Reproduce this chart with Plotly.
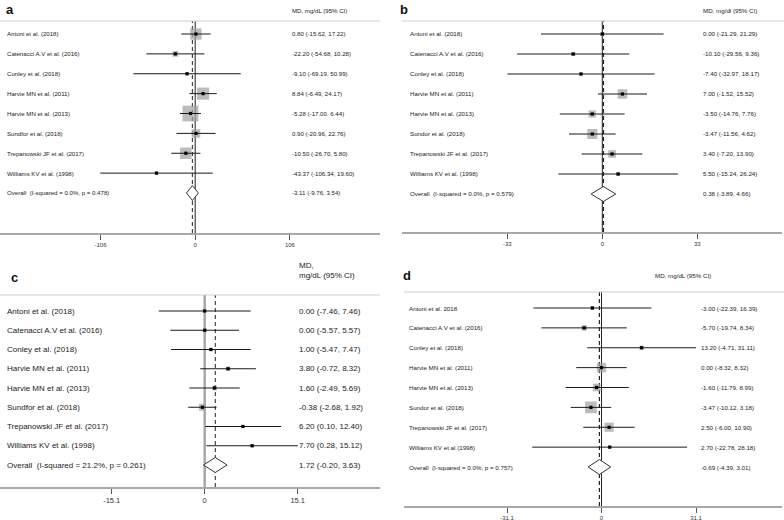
import math
import plotly.graph_objects as go

W, H = 784, 520

# ---------------- DATA ----------------
studies_a = ["Antoni et al. (2018)", "Catenacci A.V et al. (2016)", "Conley et al. (2018)",
             "Harvie MN et al. (2011)", "Harvie MN et al. (2013)", "Sundfor et al. (2018)",
             "Trepanowski JF et al. (2017)", "Williams KV et al. (1998)"]
md_a = [0.80, -22.20, -9.10, 8.84, -5.28, 0.90, -10.50, -43.37]
lo_a = [-15.62, -54.68, -69.19, -6.49, -17.00, -20.96, -26.70, -106.34]
hi_a = [17.22, 10.28, 50.99, 24.17, 6.44, 22.76, 5.80, 19.60]
weights_a = [16.4, 4.2, 1.2, 18.8, 32.1, 9.3, 16.8, 1.1]
overall_a = [-3.11, -9.76, 3.54]
het_a = "Overall\u00a0 (I-squared = 0.0%, p = 0.478)"
header_a = "MD, mg/dL (95% CI)"
tickvals_a = [-106, 0, 106]
ticktext_a = ["-106", "0", "106"]

studies_b = ["Antoni et al. (2018)", "Catenacci A.V et al. (2016)", "Conley et al. (2018)",
             "Harvie MN et al. (2011)", "Harvie MN et al. (2013)", "Sundor et al. (2018)",
             "Trepanowski JF et al. (2017)", "Williams KV et al. (1998)"]
md_b = [0.00, -10.10, -7.40, 7.00, -3.50, -3.47, 3.40, 5.50]
lo_b = [-21.29, -29.56, -32.97, -1.52, -14.76, -11.56, -7.20, -15.24]
hi_b = [21.29, 9.36, 18.17, 15.52, 7.76, 4.62, 13.90, 26.24]
weights_b = [4.0, 4.8, 2.8, 25.2, 14.5, 28.0, 16.5, 4.3]
overall_b = [0.38, -3.89, 4.66]
het_b = "Overall\u00a0 (I-squared = 0.0%, p = 0.579)"
header_b = "MD, mg/dl (95% CI)"
tickvals_b = [-33, 0, 33]
ticktext_b = ["-33", "0", "33"]

studies_c = ["Antoni et al. (2018)", "Catenacci A.V et al. (2016)", "Conley et al. (2018)",
             "Harvie MN et al. (2011)", "Harvie MN et al. (2013)", "Sundfor et al. (2018)",
             "Trepanowski JF et al. (2017)", "Williams KV et al. (1998)"]
md_c = [0.00, 0.00, 1.00, 3.80, 1.60, -0.38, 6.20, 7.70]
lo_c = [-7.46, -5.57, -5.47, -0.72, -2.49, -2.68, 0.10, 0.28]
hi_c = [7.46, 5.57, 7.47, 8.32, 5.69, 1.92, 12.40, 15.12]
weights_c = [5.5, 9.0, 7.0, 12.5, 14.5, 30.0, 6.5, 5.5]
overall_c = [1.72, -0.20, 3.63]
het_c = "Overall\u00a0 (I-squared = 21.2%, p = 0.261)"
header_c = "MD,<br>mg/dL (95% CI)"
tickvals_c = [-15.1, 0, 15.1]
ticktext_c = ["-15.1", "0", "15.1"]

studies_d = ["Antoni et al. 2018", "Catenacci A.V et al. (2016)", "Conley et al. (2018)",
             "Harvie MN et al. (2011)", "Harvie MN et al. (2013)", "Sundor et al. (2018)",
             "Trepanowski JF et al. (2017)", "Williams KV et al (1998)"]
md_d = [-3.00, -5.70, 13.20, 0.00, -1.60, -3.47, 2.50, 2.70]
lo_d = [-22.39, -19.74, -4.71, -8.32, -11.79, -10.12, -6.00, -22.78]
hi_d = [16.39, 8.34, 31.11, 8.32, 8.99, 3.18, 10.90, 28.18]
weights_d = [3.6, 6.9, 4.3, 19.8, 13.2, 30.9, 19.2, 2.1]
overall_d = [-0.69, -4.39, 3.01]
het_d = "Overall\u00a0 (I-squared = 0.0%, p = 0.757)"
header_d = "MD, mg/dL (95% CI)"
tickvals_d = [-31.1, 0, 31.1]
ticktext_d = ["-31.1", "0", "31.1"]

data = [
    dict(letter="a", studies=studies_a, md=md_a, lo=lo_a, hi=hi_a, w=weights_a, ov=overall_a,
         het=het_a, header=header_a, tv=tickvals_a, tt=ticktext_a),
    dict(letter="b", studies=studies_b, md=md_b, lo=lo_b, hi=hi_b, w=weights_b, ov=overall_b,
         het=het_b, header=header_b, tv=tickvals_b, tt=ticktext_b),
    dict(letter="c", studies=studies_c, md=md_c, lo=lo_c, hi=hi_c, w=weights_c, ov=overall_c,
         het=het_c, header=header_c, tv=tickvals_c, tt=ticktext_c),
    dict(letter="d", studies=studies_d, md=md_d, lo=lo_d, hi=hi_d, w=weights_d, ov=overall_d,
         het=het_d, header=header_d, tv=tickvals_d, tt=ticktext_d),
]

# ---------------- STYLE / LAYOUT (pixels) ----------------
style = [
    dict(xpx=(0, 380), xzero=195.2, ppu=94.7 / 106, ytop=21, ybot=233, row0=34, step=19.875,
         label_x=5, ci_x=290, head_x=290, head_y=10, title=(4, 9), fs=6.1, tfs=6.0, boxk=2.8,
         null_color="#222", null_w=1.0, ov_color="#444", ov_w=1.2),
    dict(xpx=(402, 782), xzero=602.3, ppu=95.0 / 33, ytop=21, ybot=232, row0=34, step=20.0,
         label_x=408, ci_x=701, head_x=701, head_y=10, title=(398, 9), fs=6.2, tfs=6.0, boxk=1.9,
         null_color="#222", null_w=1.0, ov_color="#222", ov_w=1.4),
    dict(xpx=(0, 380), xzero=204.7, ppu=93.0 / 15.1, ytop=295, ybot=487, row0=311, step=19.25,
         label_x=5, ci_x=297, head_x=297, head_y=270, title=(9, 277), fs=8.0, tfs=7.5, boxk=1.25,
         null_color="#a8a8a8", null_w=2.5, ov_color="#222", ov_w=1.0),
    dict(xpx=(404, 782), xzero=601.5, ppu=94.5 / 31.1, ytop=292, ybot=506, row0=308, step=19.875,
         label_x=407, ci_x=699, head_x=653, head_y=275, title=(401, 275), fs=6.2, tfs=6.0, boxk=2.1,
         null_color="#222", null_w=1.0, ov_color="#222", ov_w=1.2),
]

FONT = "Liberation Sans, Arial, sans-serif"
TXT = "#222"

fig = go.Figure()
layout = dict(width=W, height=H, margin=dict(l=0, r=0, t=0, b=0),
              paper_bgcolor="white", plot_bgcolor="white", showlegend=False,
              font=dict(family=FONT, color=TXT))
annotations = []
shapes = []

for k, (d, s) in enumerate(zip(data, style), start=1):
    xa = "x" if k == 1 else f"x{k}"
    ya = "y" if k == 1 else f"y{k}"
    xkey = "xaxis" if k == 1 else f"xaxis{k}"
    ykey = "yaxis" if k == 1 else f"yaxis{k}"

    x0, x1 = s["xpx"]
    xr = [(x0 - s["xzero"]) / s["ppu"], (x1 - s["xzero"]) / s["ppu"]]
    yr = [(s["ybot"] - s["row0"]) / s["step"], (s["ytop"] - s["row0"]) / s["step"]]

    layout[xkey] = dict(domain=[x0 / W, x1 / W], range=xr, anchor=ya,
                        showline=True, linecolor="#a8a8a8", linewidth=1.5,
                        ticks="outside", ticklen=5, tickwidth=1, tickcolor="#555",
                        tickvals=d["tv"], ticktext=d["tt"], showgrid=False, zeroline=False,
                        tickfont=dict(size=s["tfs"], color="#333", family=FONT), fixedrange=True)
    layout[ykey] = dict(domain=[1 - s["ybot"] / H, 1 - s["ytop"] / H], range=yr, anchor=xa,
                        visible=False, showgrid=False, zeroline=False, fixedrange=True)

    n = len(d["md"])
    rows = list(range(n))

    # separator line at top
    shapes.append(dict(type="line", xref=f"{xa} domain", yref=f"{ya} domain",
                       x0=0, x1=1 if k in (1, 3) else 1.01, y0=1, y1=1,
                       line=dict(color="#cfcfcf", width=1)))
    # null line
    shapes.append(dict(type="line", xref=xa, yref=f"{ya} domain", x0=0, x1=0, y0=0, y1=1,
                       line=dict(color=s["null_color"], width=s["null_w"]), layer="below"))
    # overall effect dashed line
    shapes.append(dict(type="line", xref=xa, yref=f"{ya} domain", x0=d["ov"][0], x1=d["ov"][0],
                       y0=0, y1=1, line=dict(color=s["ov_color"], width=s["ov_w"], dash="4px,3px"),
                       layer="below"))

    # weight boxes
    fig.add_trace(go.Scatter(x=d["md"], y=rows, mode="markers", xaxis=xa, yaxis=ya,
                             marker=dict(symbol="square", color="#a0a0a0",
                                         size=[s["boxk"] * math.sqrt(w) for w in d["w"]],
                                         line=dict(width=0)),
                             hoverinfo="skip"))
    # CI lines
    cx, cy = [], []
    for i in rows:
        cx += [d["lo"][i], d["hi"][i], None]
        cy += [i, i, None]
    fig.add_trace(go.Scatter(x=cx, y=cy, mode="lines", xaxis=xa, yaxis=ya,
                             line=dict(color="#1a1a1a", width=1), hoverinfo="skip"))
    # point estimates
    fig.add_trace(go.Scatter(x=d["md"], y=rows, mode="markers", xaxis=xa, yaxis=ya,
                             marker=dict(symbol="square", color="black", size=3.2,
                                         line=dict(width=0)), hoverinfo="skip"))
    # overall diamond
    est, olo, ohi = d["ov"]
    r = n
    hh = 7.5 / s["step"]
    fig.add_trace(go.Scatter(x=[olo, est, ohi, est, olo], y=[r, r - hh, r, r + hh, r],
                             mode="lines", fill="toself", fillcolor="white",
                             line=dict(color="#333", width=1), xaxis=xa, yaxis=ya,
                             hoverinfo="skip"))

    # texts
    labels = d["studies"] + [d["het"]]
    cis = [f"{d['md'][i]:.2f} ({d['lo'][i]:.2f}, {d['hi'][i]:.2f})" for i in rows]
    cis.append(f"{est:.2f} ({olo:.2f}, {ohi:.2f})")
    for i, (lab, ci) in enumerate(zip(labels, cis)):
        annotations.append(dict(text=lab, xref="paper", x=s["label_x"] / W, yref=ya, y=i,
                                xanchor="left", yanchor="middle", showarrow=False,
                                font=dict(size=s["fs"], color=TXT, family=FONT)))
        annotations.append(dict(text=ci, xref="paper", x=s["ci_x"] / W, yref=ya, y=i,
                                xanchor="left", yanchor="middle", showarrow=False,
                                font=dict(size=s["fs"], color=TXT, family=FONT)))
    annotations.append(dict(text=d["header"], xref="paper", x=s["head_x"] / W, yref="paper",
                            y=1 - s["head_y"] / H, xanchor="left", yanchor="middle",
                            showarrow=False, align="left",
                            font=dict(size=s["fs"], color=TXT, family=FONT)))
    annotations.append(dict(text=f"<b>{d['letter']}</b>", xref="paper", x=s["title"][0] / W,
                            yref="paper", y=1 - s["title"][1] / H, xanchor="left",
                            yanchor="middle", showarrow=False,
                            font=dict(size=13, color="#111", family=FONT)))

layout["annotations"] = annotations
layout["shapes"] = shapes
fig.update_layout(**layout)
fig.write_html("out.html",
               config={"displayModeBar": False, "staticPlot": True},
               post_script="document.body.style.margin='0px';"
                           "document.body.style.overflow='hidden';")
